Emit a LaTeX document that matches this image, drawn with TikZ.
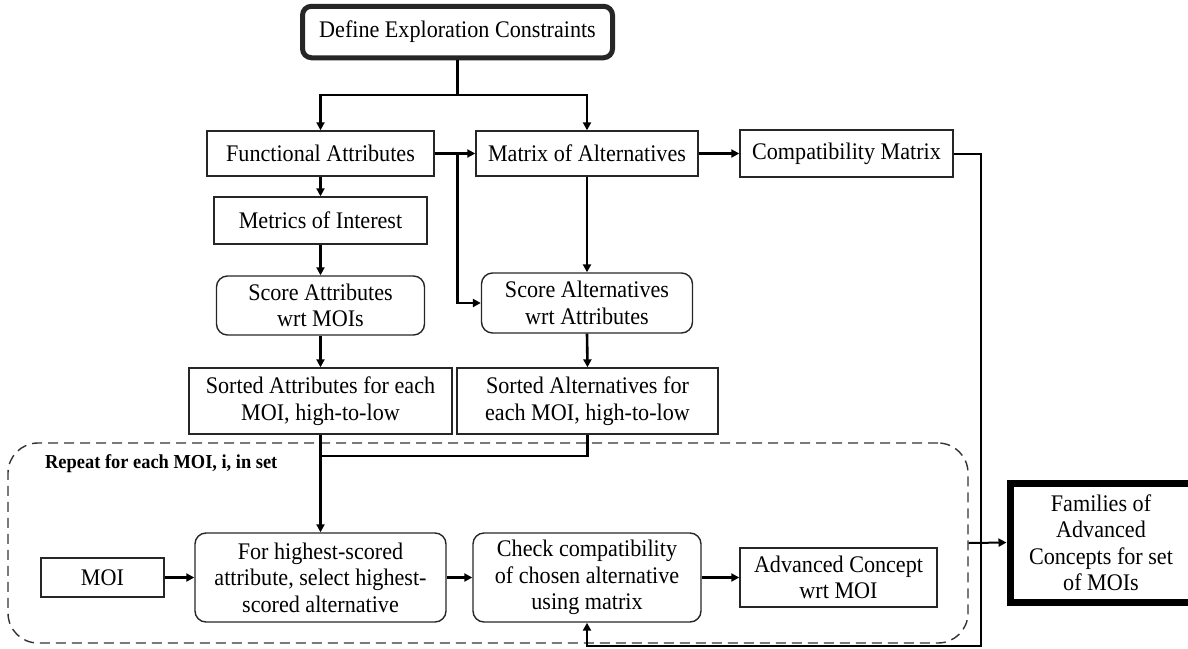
\documentclass[tikz,border=0pt]{standalone}
\usepackage{fontspec}
\setmainfont{Liberation Serif}[FakeStretch=0.93]
\usetikzlibrary{arrows.meta}
\newcommand\mainfs{\fontsize{23.8}{26.5}\selectfont}
\newcommand\labfs{\fontsize{19.8}{22}\selectfont\bfseries}
\tikzset{
  box/.style={draw=black!85, line width=1.4pt, inner sep=0pt, align=center, font=\mainfs},
  rbox/.style={box, rounded corners=11pt},
  conn/.style={draw=black, line width=2.6pt},
  arr/.style={conn, -{Triangle[length=8pt,width=8pt]}},
  thinconn/.style={draw=black, line width=2pt},
}
\begin{document}
\begin{tikzpicture}[x=1pt,y=-1pt]
\useasboundingbox (0,0) rectangle (1188,648);
% dashed loop region
\node[draw=black!80, line width=1.4pt, dash pattern=on 10pt off 6pt, rounded corners=30pt,
      minimum width=960pt, minimum height=200pt, inner sep=0pt] (loop) at (488,543) {};
\node[font=\labfs, anchor=base west, inner sep=0pt] (replab) at (45,468) {Repeat for each MOI, i, in set};

% nodes
\node[box, line width=5pt, rounded corners=9pt, minimum width=310pt, minimum height=51.5pt] (def) at (457.5,32) {Define Exploration Constraints};
\node[box, minimum width=227pt, minimum height=45pt] (fa) at (320.5,153.5) {Functional Attributes};
\node[box, minimum width=222pt, minimum height=45pt] (moa) at (587,153.5) {Matrix of Alternatives};
\node[box, minimum width=213pt, minimum height=47pt] (cm) at (846.5,153.5) {Compatibility Matrix};
\node[box, minimum width=213pt, minimum height=47pt] (met) at (320.5,220.5) {Metrics of Interest};
\node[rbox, minimum width=208pt, minimum height=59pt] (sa) at (320.5,305.5) {Score Attributes\\wrt MOIs};
\node[rbox, minimum width=211pt, minimum height=60pt] (salt) at (587,303) {Score Alternatives\\wrt Attributes};
\node[box, minimum width=263pt, minimum height=66pt] (sat) at (320.5,401) {Sorted Attributes for each\\MOI, high-to-low};
\node[box, minimum width=261pt, minimum height=66pt] (sal) at (587.5,401) {Sorted Alternatives for\\each MOI, high-to-low};
\node[box, minimum width=123pt, minimum height=39pt] (moi) at (102.5,577.5) {MOI};
\node[rbox, minimum width=251pt, minimum height=89pt] (fh) at (320.5,577.5) {For highest-scored\\attribute, select highest-\\scored alternative};
\node[rbox, minimum width=228pt, minimum height=89pt] (chk) at (587,577.5) {Check compatibility\\of chosen alternative\\using matrix};
\node[box, minimum width=197pt, minimum height=59pt] (adv) at (838.5,577.5) {Advanced Concept\\wrt MOI};
\node[box, draw=black, line width=7pt, minimum width=182pt, minimum height=119pt] (fam) at (1101,542.5) {Families of\\Advanced\\Concepts for set\\of MOIs};

% junction coordinates
\coordinate (j1) at (457.5,95);
\coordinate (j2) at (457.5,153.5);
\coordinate (j3) at (320.5,456);
\coordinate (c1) at (981,646);

% connectors
\draw[conn] (def.south) -- (j1);
\draw[arr] (j1) -| (fa.north);
\draw[arr] (j1) -| (moa.north);
\draw[arr] (fa.east) -- (moa.west);
\draw[arr] (j2) |- (salt.west);
\draw[arr] (moa.east) -- (cm.west);
\draw[arr] (moa.south) -- (salt.north);
\draw[arr] (fa.south) -- (met.north);
\draw[arr] (met.south) -- (sa.north);
\draw[arr] (sa.south) -- (sat.north);
\draw[arr] (salt.south) -- (sal.north);
\draw[conn] (sal.south) |- (j3);
\draw[arr] (sat.south) -- (fh.north);
\draw[arr] (moi.east) -- (fh.west);
\draw[arr] (fh.east) -- (chk.west);
\draw[arr] (chk.east) -- (adv.west);
\draw[thinconn, -{Triangle[length=8pt,width=8pt]}] (cm.east) -| (c1) -| (chk.south);
\draw[thinconn, -{Triangle[length=8pt,width=8pt]}] (loop.east) -- (fam.west);
\end{tikzpicture}
\end{document}
